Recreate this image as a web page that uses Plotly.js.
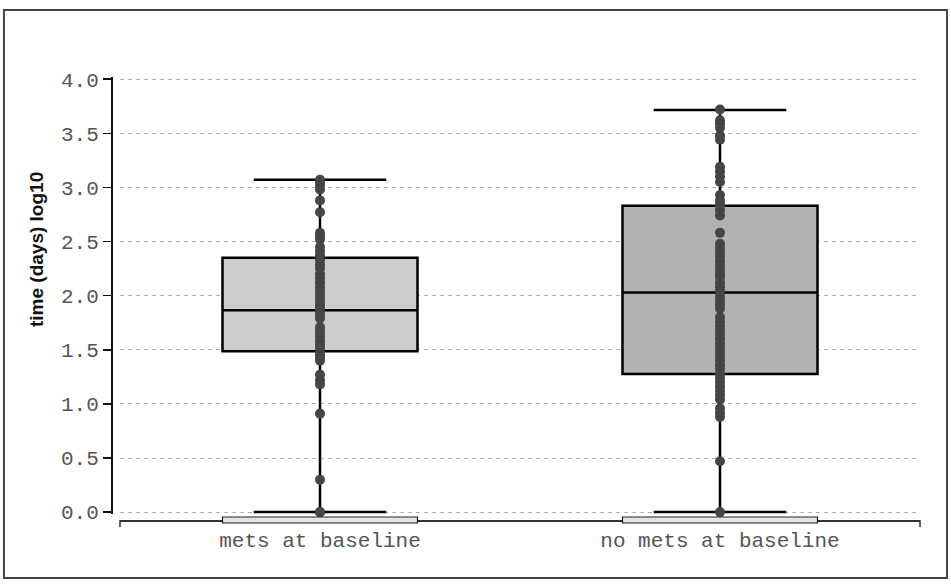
<!DOCTYPE html>
<html>
<head>
<meta charset="utf-8">
<script src="https://cdn.plot.ly/plotly-3.0.1.min.js"></script>
<style>html,body{margin:0;padding:0;background:#fff;}#chart{width:951px;height:588px;}</style>
</head>
<body>
<div id="chart"></div>
<script>
// Categories
const categories = ["mets at baseline", "no mets at baseline"];
const yTitle = "time (days) log10";

// Box statistics (log10 days)
const q1Vals = [1.487, 1.275];
const medianVals = [1.866, 2.03];
const q3Vals = [2.35, 2.83];
const lowerVals = [0.0, 0.0];
const upperVals = [3.07, 3.715];

// Y tick labels
const yTickVals = [0, 0.5, 1, 1.5, 2, 2.5, 3, 3.5, 4];
const yTickText = ["0.0", "0.5", "1.0", "1.5", "2.0", "2.5", "3.0", "3.5", "4.0"];

// Individual observations
const metsPoints = [3.07, 3.05, 3.02, 2.98, 2.88, 2.77, 2.58, 2.55, 2.52, 2.45, 2.41, 2.37,
  2.33, 2.29, 2.25, 2.2, 2.16, 2.12, 2.08, 2.05, 2.02, 1.99, 1.96, 1.93, 1.9, 1.87, 1.85,
  1.82, 1.79, 1.71, 1.68, 1.65, 1.62, 1.58, 1.55, 1.52, 1.49, 1.46, 1.43, 1.4, 1.27, 1.22,
  1.18, 0.91, 0.30, 0.0, 0.0];
const noMetsPoints = [3.72, 3.62, 3.59, 3.55, 3.48, 3.44, 3.19, 3.15, 3.1, 3.05, 2.93, 2.88,
  2.84, 2.79, 2.74, 2.58, 2.48, 2.44, 2.4, 2.36, 2.32, 2.28, 2.24, 2.2, 2.17, 2.12, 2.08,
  2.04, 2.0, 1.96, 1.92, 1.88, 1.8, 1.76, 1.72, 1.68, 1.64, 1.6, 1.56, 1.52, 1.48, 1.44,
  1.4, 1.36, 1.32, 1.28, 1.24, 1.2, 1.16, 1.12, 1.08, 1.04, 0.96, 0.92, 0.88, 0.47, 0.0];

const boxFills = ["#cdcdcd", "#b2b2b2"];
const monoFont = "Liberation Mono, DejaVu Sans Mono, monospace";

const traces = [];
categories.forEach((c, i) => {
  traces.push({
    type: "box",
    x: [c],
    q1: [q1Vals[i]],
    median: [medianVals[i]],
    q3: [q3Vals[i]],
    lowerfence: [lowerVals[i]],
    upperfence: [upperVals[i]],
    boxpoints: false,
    fillcolor: boxFills[i],
    line: { color: "#000000", width: 2.5 },
    width: 0.4875,
    whiskerwidth: 0.68,
    showlegend: false,
    hoverinfo: "y"
  });
});
[metsPoints, noMetsPoints].forEach((pts, i) => {
  traces.push({
    type: "scatter",
    mode: "markers",
    x: pts.map(() => categories[i]),
    y: pts,
    marker: { color: "#454545", size: 10, line: { width: 0 } },
    cliponaxis: false,
    showlegend: false,
    hoverinfo: "y"
  });
});

const xDom0 = 8 / 808;
const shapes = [
  // outer frame
  { type: "rect", xref: "paper", yref: "paper", x0: -0.1337, x1: 1.0334, y0: -0.1309, y1: 1.1512,
    line: { color: "#454545", width: 2 }, fillcolor: "rgba(0,0,0,0)", layer: "below" },
  // x-axis end ticks
  { type: "line", xref: "paper", yref: "paper", x0: xDom0, x1: xDom0, y0: 0, y1: -0.016,
    line: { color: "#333", width: 1.5 } },
  { type: "line", xref: "paper", yref: "paper", x0: 1, x1: 1, y0: 0, y1: -0.016,
    line: { color: "#333", width: 1.5 } }
];
// category band markers on the x axis
categories.forEach((c, i) => {
  shapes.push({ type: "rect", xref: "x", yref: "paper", x0: i - 0.2437, x1: i + 0.2437,
    y0: -0.0068, y1: 0.0068, line: { color: "#222", width: 1.2 }, fillcolor: "#e4e4e4" });
});

const layout = {
  width: 951, height: 588,
  margin: { l: 112, r: 31, t: 77, b: 68, pad: 0 },
  paper_bgcolor: "#ffffff", plot_bgcolor: "#ffffff",
  showlegend: false,
  xaxis: {
    type: "category",
    domain: [xDom0, 1],
    anchor: "free", position: 0,
    range: [-0.5, 1.5],
    showgrid: false, zeroline: false,
    showline: true, linecolor: "#333", linewidth: 1.5,
    ticks: "",
    tickfont: { family: monoFont, size: 21, color: "#555" },
    fixedrange: true
  },
  yaxis: {
    domain: [0.0129, 1],
    anchor: "free", position: 0,
    range: [-0.02, 4.02],
    tickmode: "array",
    tickvals: yTickVals,
    ticktext: yTickText,
    showgrid: true, gridcolor: "#b0b0b0", gridwidth: 1, griddash: "4px,4px",
    zeroline: false,
    showline: true, linecolor: "#111", linewidth: 2,
    ticks: "outside", ticklen: 8, tickwidth: 1.5, tickcolor: "#111",
    tickfont: { family: monoFont, size: 21, color: "#555" },
    fixedrange: true
  },
  annotations: [{
    text: yTitle, xref: "paper", yref: "paper", x: -0.0928, y: 0.6095,
    xanchor: "center", yanchor: "middle", textangle: -90, showarrow: false,
    font: { family: "Liberation Sans, Arial, sans-serif", size: 19, color: "#111", weight: "bold" }
  }],
  shapes: shapes
};

Plotly.newPlot("chart", traces, layout, { displayModeBar: false, staticPlot: true });
</script>
</body>
</html>
